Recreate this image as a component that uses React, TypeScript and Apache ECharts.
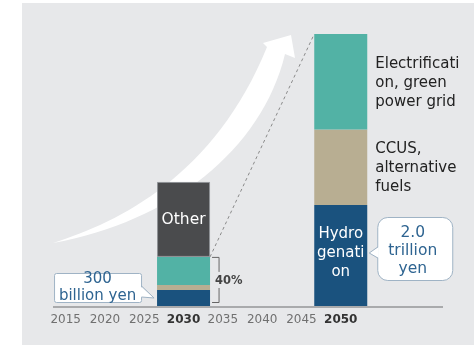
import React, { useEffect, useRef } from 'react';
import * as echarts from 'echarts';

const years = ['2015', '2020', '2025', '2030', '2035', '2040', '2045', '2050'];
const axisPadding = ['', ''];
const boldYears = ['2030', '2050'];
// billion yen (illustrative stacked values)
const hydrogenation = [null, null, null, 118, null, null, null, 743];
const ccus = [null, null, null, 37, null, null, null, 555];
const electrification = [null, null, null, 206, null, null, null, 702];
const other = [null, null, null, 551, null, null, null, null];
const hydroLabel = 'Hydro\ngenati\non';
const ccusLabel = 'CCUS,\nalternative\nfuels';
const elecLabel = 'Electrificati\non, green\npower grid';
const otherLabel = 'Other';
const callout2030 = '300\nbillion yen';
const callout2050 = '2.0\ntrillion\nyen';
const shareLabel = '40%';

const ARROW_D =
  'M53 243 C120 222 215 175 267 47 L263 43 L291 35 L295 58 L285 54 C262 150 170 222 53 243 Z';
let registered = false;

export default function App() {
  const ref = useRef<HTMLDivElement>(null);
  useEffect(() => {
    if (!registered) {
      echarts.graphic.registerShape('growthArrow', echarts.graphic.extendPath(ARROW_D, {}) as any);
      registered = true;
    }
    const chart = echarts.init(ref.current!, null, { renderer: 'svg' });
    const font = '"DejaVu Sans", Verdana, sans-serif';
    const barW = 53;
    const at = (cat: string, arr: (number | null)[], label: any) =>
      arr.map((v, i) => (years[i] === cat && v != null ? { value: v, label } : v));
    const rightLabel = {
      show: true,
      position: 'right',
      distance: 8,
      color: '#222',
      fontFamily: font,
      fontSize: 15,
      lineHeight: 19,
    };
    chart.setOption({
      animation: false,
      grid: { left: 46, right: 35, top: 34, bottom: 40 },
      xAxis: {
        type: 'category',
        data: [...years, ...axisPadding],
        axisLine: { show: false },
        axisTick: { show: false },
        axisLabel: {
          interval: 0,
          margin: 7,
          formatter: (v: string) => (boldYears.includes(v) ? `{b|${v}}` : `{n|${v}}`),
          rich: {
            n: { fontFamily: font, fontSize: 12, color: '#707070' },
            b: { fontFamily: font, fontSize: 12, fontWeight: 'bold', color: '#333' },
          },
        },
      },
      yAxis: { type: 'value', min: 0, max: 2000, show: false },
      series: [
        {
          type: 'bar', stack: 't', barWidth: barW, itemStyle: { color: '#1a527e' },
          data: at('2050', hydrogenation, {
            show: true, position: 'inside', formatter: hydroLabel, color: '#fff',
            fontFamily: font, fontSize: 15, lineHeight: 19, offset: [0, -3],
          }),
        },
        {
          type: 'bar', stack: 't', barWidth: barW, itemStyle: { color: '#b8ae92' },
          data: at('2050', ccus, { ...rightLabel, formatter: ccusLabel }),
        },
        {
          type: 'bar', stack: 't', barWidth: barW, itemStyle: { color: '#52b2a5' },
          data: at('2050', electrification, { ...rightLabel, formatter: elecLabel }),
        },
        {
          type: 'bar', stack: 't', barWidth: barW,
          itemStyle: { color: '#4a4b4d', borderColor: '#8e9195', borderWidth: 1 },
          data: at('2030', other, {
            show: true, position: 'inside', formatter: otherLabel, color: '#fff',
            fontFamily: font, fontSize: 15.5,
          }),
        },
      ],
    });

    const px = (cat: string, val: number) => chart.convertToPixel({ gridIndex: 0 }, [cat, val]) as number[];
    const i30 = years.indexOf('2030');
    const i50 = years.indexOf('2050');
    const [x30, y0] = px('2030', 0);
    const [x50] = px('2050', 0);
    const tealTop30 = px('2030', (hydrogenation[i30] || 0) + (ccus[i30] || 0) + (electrification[i30] || 0))[1];
    const top50 = px('2050', (hydrogenation[i50] || 0) + (ccus[i50] || 0) + (electrification[i50] || 0))[1];
    const r30 = x30 + barW / 2;
    const l30 = x30 - barW / 2;
    const l50 = x50 - barW / 2;
    const r50 = x50 + barW / 2;
    const boxStroke = '#9fb3c5';
    const calloutColor = '#2e6491';

    // callout 2030
    const b1 = { x: l30 - 103, y: y0 - 33, w: 87, h: 29 };
    // callout 2050
    const b2 = { x: r50 + 10, y: y0 - 89, w: 75, h: 63 };

    chart.setOption({
      graphic: [
        { type: 'rect', z: -10, silent: true, shape: { x: 22, y: 3, width: 452, height: 342 }, style: { fill: '#e7e8ea' } },
        { type: 'growthArrow', z: 1, silent: true, x: 0, y: 0, style: { fill: '#ffffff' } },
        { type: 'line', z: 1, shape: { x1: 53, y1: y0 + 1, x2: 443, y2: y0 + 1 }, style: { stroke: '#a9aaac', lineWidth: 2 } },
        { type: 'line', z: 1, shape: { x1: r30, y1: tealTop30, x2: l50, y2: top50 }, style: { stroke: '#8a8a8a', lineWidth: 1, lineDash: [3, 3] } },
        // bracket
        { type: 'polyline', z: 5, shape: { points: [[r30 + 2, tealTop30 + 0.5], [r30 + 9, tealTop30 + 0.5], [r30 + 9, tealTop30 + 15]] }, style: { stroke: '#666', lineWidth: 1, fill: null } },
        { type: 'polyline', z: 5, shape: { points: [[r30 + 9, y0 - 18], [r30 + 9, y0 - 3.5], [r30 + 2, y0 - 3.5]] }, style: { stroke: '#666', lineWidth: 1, fill: null } },
        { type: 'text', z: 6, style: { text: shareLabel, x: r30 + 5, y: tealTop30 + 23, align: 'left', verticalAlign: 'middle', fontFamily: font, fontSize: 11.5, fontWeight: 'bold', fill: '#444' } },
        // callout 2030
        { type: 'rect', z: 5, shape: { x: b1.x + 0.5, y: b1.y + 0.5, width: b1.w, height: b1.h, r: 2 }, style: { fill: '#fff', stroke: boxStroke, lineWidth: 1 } },
        { type: 'polygon', z: 6, shape: { points: [[b1.x + b1.w - 1, b1.y + 13], [l30 - 3, y0 - 8], [b1.x + b1.w - 1, b1.y + 24]] }, style: { fill: '#fff' } },
        { type: 'polyline', z: 7, shape: { points: [[b1.x + b1.w + 0.5, b1.y + 13], [l30 - 3, y0 - 8], [b1.x + b1.w + 0.5, b1.y + 24]] }, style: { stroke: boxStroke, lineWidth: 1, fill: null } },
        { type: 'text', z: 8, style: { text: callout2030, x: b1.x + b1.w / 2, y: b1.y + 13, align: 'center', verticalAlign: 'middle', fontFamily: font, fontSize: 15, lineHeight: 17, fill: calloutColor } },
        // callout 2050
        { type: 'rect', z: 5, shape: { x: b2.x + 0.5, y: b2.y + 0.5, width: b2.w, height: b2.h, r: 10 }, style: { fill: '#fff', stroke: boxStroke, lineWidth: 1 } },
        { type: 'polygon', z: 6, shape: { points: [[b2.x + 1.5, b2.y + 30], [r50 + 2, b2.y + 36], [b2.x + 1.5, b2.y + 41]] }, style: { fill: '#fff' } },
        { type: 'polyline', z: 7, shape: { points: [[b2.x + 0.5, b2.y + 30], [r50 + 2, b2.y + 36], [b2.x + 0.5, b2.y + 41]] }, style: { stroke: boxStroke, lineWidth: 1, fill: null } },
        { type: 'text', z: 8, style: { text: callout2050, x: b2.x + b2.w / 2 - 2, y: b2.y + 33, align: 'center', verticalAlign: 'middle', fontFamily: font, fontSize: 15.5, lineHeight: 18, fill: calloutColor } },
      ],
    });
    return () => chart.dispose();
  }, []);
  return <div ref={ref} style={{ position: 'fixed', left: 0, top: 0, width: 474, height: 346 }} />;
}
